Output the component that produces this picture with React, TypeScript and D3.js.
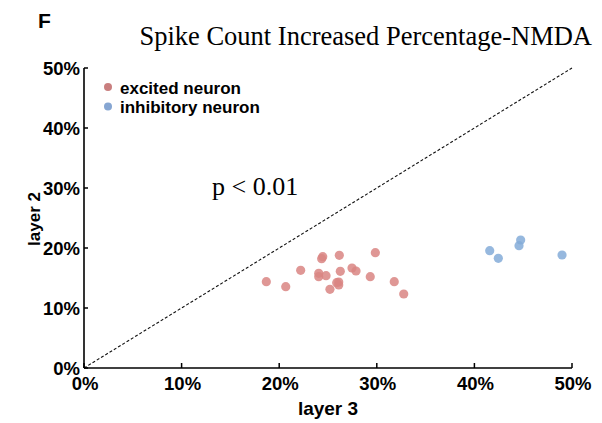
import React from "react";
import * as d3 from "d3";

const excitedX = [18.68, 20.67, 22.2, 24.46, 24.35, 26.16, 29.85, 24.05, 24.05, 24.8, 26.26, 27.46, 27.87, 29.33, 31.79, 32.76, 26.1, 25.89, 26.1, 25.2];
const excitedY = [14.38, 13.55, 16.28, 18.55, 18.22, 18.78, 19.22, 15.78, 15.22, 15.38, 16.12, 16.67, 16.17, 15.22, 14.38, 12.33, 14.33, 14.22, 13.83, 13.12];
const inhibX = [41.57, 42.45, 44.74, 44.57, 48.98];
const inhibY = [19.55, 18.28, 21.33, 20.38, 18.83];
const ticks = [0, 10, 20, 30, 40, 50];
const legendLabels = ["excited neuron", "inhibitory neuron"];

export default function App() {
  const x = d3.scaleLinear().domain([0, 50]).range([84, 572]);
  const y = d3.scaleLinear().domain([0, 50]).range([368, 68]);
  const sans = "Liberation Sans, Arial, sans-serif";
  const serif = "Liberation Serif, Times New Roman, serif";
  const exc = "#d98583";
  const inh = "#84acd8";
  const diag = d3.line<number>().x((d) => x(d)).y((d) => y(d))([0, 50]) || "";
  return (
    <svg width={602} height={423} style={{ position: "absolute", left: 0, top: 0, background: "#fff" }}>
      <text x={38} y={28} fontFamily={sans} fontWeight="bold" fontSize={21}>F</text>
      <text x={592} y={45} textAnchor="end" fontFamily={serif} fontSize={26.5}>Spike Count Increased Percentage-NMDA</text>
      <path d={diag} stroke="#111" strokeWidth={1.1} strokeDasharray="3,2" fill="none" />
      <line x1={x(0)} x2={x(0)} y1={y(0)} y2={y(50)} stroke="#000" strokeWidth={1.6} />
      <line x1={x(0)} x2={x(50)} y1={y(0)} y2={y(0)} stroke="#000" strokeWidth={1.6} />
      {ticks.map((t) => (
        <g key={"yt" + t}>
          <line x1={x(0)} x2={x(0) + 4} y1={y(t)} y2={y(t)} stroke="#000" strokeWidth={1.5} />
          <text x={80} y={y(t) + 6.5} textAnchor="end" fontFamily={sans} fontWeight="bold" fontSize={18.5}>{t + "%"}</text>
        </g>
      ))}
      {ticks.map((t) => (
        <g key={"xt" + t}>
          <line x1={x(t)} x2={x(t)} y1={y(0)} y2={y(0) - 5} stroke="#000" strokeWidth={1.5} />
          <text x={x(t) + 1} y={390} textAnchor="middle" fontFamily={sans} fontWeight="bold" fontSize={18.5}>{t + "%"}</text>
        </g>
      ))}
      <text x={328} y={415} textAnchor="middle" fontFamily={sans} fontWeight="bold" fontSize={19}>layer 3</text>
      <text transform="translate(40,219) rotate(-90)" textAnchor="middle" fontFamily={sans} fontWeight="bold" fontSize={17}>layer 2</text>
      <text x={212} y={195} fontFamily={serif} fontSize={26}>p &lt; 0.01</text>
      {excitedX.map((v, i) => (
        <circle key={"e" + i} cx={x(v)} cy={y(excitedY[i])} r={4.6} fill={exc} fillOpacity={0.85} />
      ))}
      {inhibX.map((v, i) => (
        <circle key={"h" + i} cx={x(v)} cy={y(inhibY[i])} r={4.6} fill={inh} fillOpacity={0.85} />
      ))}
      {legendLabels.map((l, i) => (
        <g key={l}>
          <circle cx={108} cy={87 + i * 19.5} r={4} fill={i === 0 ? "#c97f7f" : "#86a6d2"} />
          <text x={120} y={93.5 + i * 19.5} fontFamily={sans} fontWeight="bold" fontSize={17}>{l}</text>
        </g>
      ))}
    </svg>
  );
}
